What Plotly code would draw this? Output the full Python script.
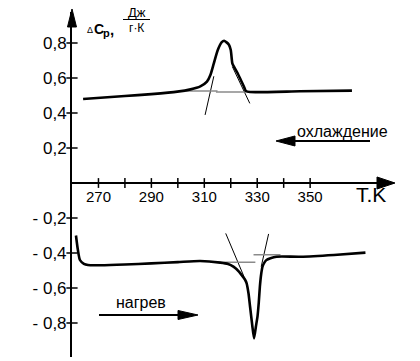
import plotly.graph_objects as go

W, H = 420, 361

# ---- data ----
cool_T = [264.2, 280, 290, 299.8, 304.8, 308.5, 311.0, 312.3, 313.6, 315.1, 316.6, 317.5,
          318.3, 319.3, 320.0, 320.6, 321.2, 322.5, 323.8, 325.0, 325.7, 327.3, 346.2, 365.8]
cool_Cp = [0.48, 0.497, 0.508, 0.522, 0.535, 0.552, 0.579, 0.617, 0.684, 0.76, 0.805, 0.813,
           0.805, 0.79, 0.76, 0.684, 0.665, 0.63, 0.589, 0.55, 0.526, 0.52, 0.524, 0.528]

heat_T = [261.5, 262.2, 263, 264.5, 266, 270.6, 280, 290, 300, 308.4, 316, 319, 321, 323,
          324.1, 325.3, 326, 326.7, 327.3, 328.1, 328.8, 329.5, 330.1, 330.6, 331, 331.5,
          332, 332.7, 333.5, 335, 337.3, 346.4, 359, 370.9]
heat_Cp = [-0.30, -0.38, -0.44, -0.462, -0.469, -0.470, -0.466, -0.459, -0.452, -0.446,
           -0.455, -0.463, -0.478, -0.505, -0.526, -0.55, -0.573, -0.63, -0.707, -0.81,
           -0.888, -0.82, -0.764, -0.68, -0.593, -0.52, -0.478, -0.455, -0.44, -0.43,
           -0.421, -0.421, -0.411, -0.398]

# construction (tangent / baseline) lines: pairs of (T, Cp)
tangents_T = [[310.3, 313.6], [320.6, 327.2], [318.1, 325.0], [334.3, 331.5]]
tangents_Cp = [[0.389, 0.61], [0.665, 0.455], [-0.288, -0.535], [-0.291, -0.478]]
baselines_T = [[303.0, 315.0], [314.4, 325.7], [312.2, 329.3], [328.6, 338.8]]
baselines_Cp = [[0.526, 0.526], [0.52, 0.52], [-0.453, -0.453], [-0.41, -0.41]]

x_ticks = [270, 280, 290, 300, 310, 320, 330, 340, 350]
x_ticktext = ["270", "", "290", "", "310", "", "330", "", "350"]
y_ticks = [-0.8, -0.6, -0.4, -0.2, 0.2, 0.4, 0.6, 0.8]
y_ticktext = ["- 0,8", "- 0,6", "- 0,4", "- 0,2", "0,2", "0,4", "0,6", "0,8"]
x_origin = 260

FONT = "Arial, Liberation Sans, sans-serif"

def px(x):
    return x / W

def py(y):
    return 1 - y / H

x_dom = [px(72), px(393)]
y_dom = [py(357), py(12)]
x_rng = [x_origin, x_origin + (393 - 72) / 2.646]
y_rng = [-(357 - 183) / 175, (183 - 12) / 175]
y0_pos = py(183)

fig = go.Figure()

for tT, tC in zip(tangents_T, tangents_Cp):
    fig.add_trace(go.Scatter(x=tT, y=tC, mode="lines",
                             line=dict(color="black", width=1), hoverinfo="skip"))
for bT, bC in zip(baselines_T, baselines_Cp):
    fig.add_trace(go.Scatter(x=bT, y=bC, mode="lines",
                             line=dict(color="#8a8a8a", width=1.5), hoverinfo="skip"))

fig.add_trace(go.Scatter(x=cool_T, y=cool_Cp, mode="lines",
                         line=dict(color="black", width=2.6, shape="spline", smoothing=0.6)))
fig.add_trace(go.Scatter(x=heat_T, y=heat_Cp, mode="lines",
                         line=dict(color="black", width=2.6, shape="spline", smoothing=0.6)))

# crossing tick marks
fig.add_trace(go.Scatter(x=x_ticks, y=[0] * len(x_ticks), mode="markers", cliponaxis=False,
                         marker=dict(symbol="line-ns", size=7,
                                     line=dict(width=1.5, color="black")), hoverinfo="skip"))
fig.add_trace(go.Scatter(x=[x_origin] * len(y_ticks), y=y_ticks, mode="markers", cliponaxis=False,
                         marker=dict(symbol="line-ew", size=8,
                                     line=dict(width=1.5, color="black")), hoverinfo="skip"))

axis_common = dict(showgrid=False, zeroline=False, fixedrange=True)

fig.update_layout(
    width=W, height=H,
    margin=dict(l=0, r=0, t=0, b=0),
    paper_bgcolor="white", plot_bgcolor="rgba(0,0,0,0)",
    showlegend=False,
    font=dict(family=FONT, color="black"),
    xaxis=dict(domain=x_dom, range=x_rng, anchor="free", position=y0_pos,
               showline=True, linecolor="black", linewidth=2,
               tickmode="array", tickvals=x_ticks, ticktext=x_ticktext,
               ticks="", tickfont=dict(size=15, family=FONT), **axis_common),
    yaxis=dict(domain=y_dom, range=y_rng, anchor="x",
               showline=True, linecolor="black", linewidth=2,
               tickmode="array", tickvals=y_ticks, ticktext=y_ticktext,
               ticks="", tickfont=dict(size=17, family=FONT), **axis_common),
)

def tri(p1, p2, p3, c="black"):
    return dict(type="path", xref="paper", yref="paper", layer="above",
                path=(f"M {px(p1[0]):.5f},{py(p1[1]):.5f} L {px(p2[0]):.5f},{py(p2[1]):.5f} "
                      f"L {px(p3[0]):.5f},{py(p3[1]):.5f} Z"),
                fillcolor=c, line=dict(color=c, width=1))

shapes = [
    tri((72, 9), (67.5, 27), (76.5, 27)),
    tri((395, 183), (377, 177), (377, 189)),
    dict(type="line", xref="paper", yref="paper", layer="above",
         x0=px(293), x1=px(370), y0=py(141), y1=py(141),
         line=dict(color="black", width=2)),
    tri((276, 141), (295, 136), (295, 146)),
    dict(type="line", xref="paper", yref="paper", layer="above",
         x0=px(99), x1=px(180), y0=py(315), y1=py(315),
         line=dict(color="black", width=2)),
    tri((198, 315), (178, 310.5), (178, 319.5)),
    dict(type="line", xref="paper", yref="paper", layer="above",
         x0=px(123), x1=px(150), y0=py(19.5), y1=py(19.5),
         line=dict(color="black", width=1)),
]
fig.update_layout(shapes=shapes)

def ann(text, x, y, size, bold=False, xanchor="center"):
    return dict(text=f"<b>{text}</b>" if bold else text, x=px(x), y=py(y),
                xref="paper", yref="paper", showarrow=False,
                xanchor=xanchor, yanchor="middle",
                font=dict(size=size, family=FONT, color="black"))

annotations = [
    ann("Δ", 90, 30, 9),
    ann("C", 99, 29, 14, bold=True),
    ann("p", 106.5, 33, 11, bold=True),
    ann(",", 112, 30, 15, bold=True),
    ann("Дж", 136.5, 12.5, 13),
    ann("г·К", 136.5, 27.5, 12),
    ann("T.K", 371, 195, 21),
    ann("охлаждение", 342, 131, 16),
    ann("нагрев", 141, 302, 16),
]
fig.update_layout(annotations=annotations)

fig.write_html("out.html", config={"displayModeBar": False},
               post_script="document.body.style.margin='0';")
